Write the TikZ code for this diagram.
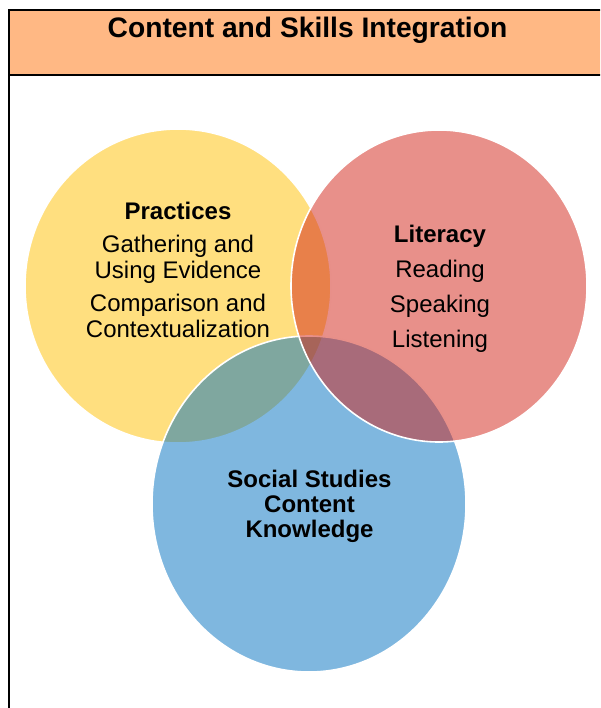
\documentclass[tikz,border=0pt]{standalone}
\usepackage{fontspec}
\setmainfont{Liberation Sans}
\usetikzlibrary{shapes.geometric}
\definecolor{header}{HTML}{FFB884}
\definecolor{vyellow}{HTML}{FFC000}
\definecolor{vblue}{HTML}{0070C0}
\definecolor{vred}{HTML}{D12115}

\begin{document}
\begin{tikzpicture}[x=1pt,y=-1pt,
  venn/.style={ellipse,draw=white,line width=1.6pt,fill opacity=0.5,inner sep=0pt},
  lab/.style={align=center,inner sep=0pt,font=\fontsize{24}{26}\selectfont},
  title/.style={font=\fontsize{28.2}{30}\selectfont\bfseries,inner sep=0pt}]
\useasboundingbox (0,0) rectangle (600,708);
\clip (0,0) rectangle (600,708);

%% table cell with the heading row
\fill[header] (9,10) rectangle (620,75.5);
\draw[line width=2pt] (9,720) -- (9,10) -- (620,10);
\draw[line width=2pt] (9,75.5) -- (620,75.5);
\node[title,anchor=base] (head) at (307.5,37.5) {Content and Skills Integration};

%% the three circles, later ones on top
\node[venn,fill=vyellow,minimum width=306pt,minimum height=314pt] (prac) at (178,286) {};
\node[venn,fill=vblue,minimum width=314pt,minimum height=336pt] (content) at (309,504) {};
\node[venn,fill=vred,minimum width=296pt,minimum height=312pt] (lit) at (439,286) {};

%% labels
\node[lab] (practxt) at (178,269.5) {\textbf{Practices}\\[7pt]
  Gathering and\\ Using Evidence\\[7pt]
  Comparison and\\ Contextualization};
\node[lab] (littxt) at (440,288.5) {\textbf{Literacy}\\[9pt]
  Reading\\[9pt] Speaking\\[9pt] Listening};
\node[lab,font=\fontsize{24}{25}\selectfont\bfseries] (contxt) at (309.5,506)
  {Social Studies\\ Content\\ Knowledge};
\end{tikzpicture}
\end{document}
